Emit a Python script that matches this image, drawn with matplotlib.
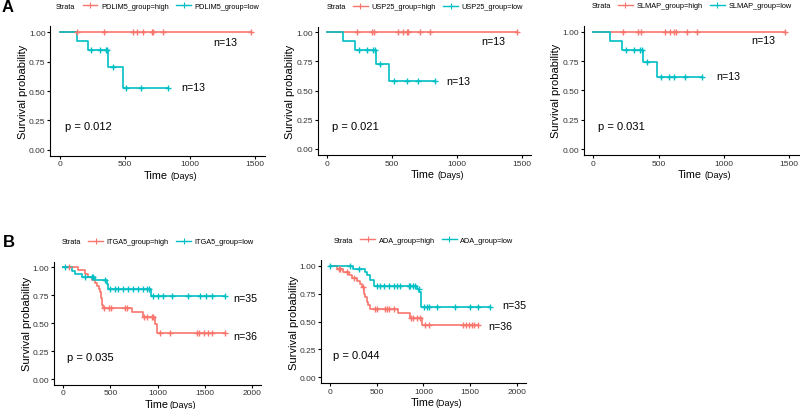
import matplotlib
matplotlib.use("Agg")
import matplotlib.pyplot as plt
from matplotlib.lines import Line2D
import numpy as np

plt.rcParams['font.family'] = ['Liberation Sans', 'DejaVu Sans']

RED = '#F8766D'
TEAL = '#00BFC4'

# ---------------- data ----------------
# each curve: step times, survival after each step, last follow-up time, censor times

# A1 PDLIM5
pdlim5_high_times = [0]
pdlim5_high_surv = [1.0]
pdlim5_high_end = 1467
pdlim5_high_censor = [133, 338, 559, 590, 636, 705, 718, 795, 1467]
pdlim5_low_times = [0, 130, 218, 372, 487]
pdlim5_low_surv = [1.0, 0.923, 0.846, 0.705, 0.529]
pdlim5_low_end = 833
pdlim5_low_censor = [236, 308, 354, 364, 410, 508, 620, 833]

# A2 USP25
usp25_high_times = [0]
usp25_high_surv = [1.0]
usp25_high_end = 1461
usp25_high_censor = [226, 342, 360, 548, 581, 612, 625, 715, 792, 1461]
usp25_low_times = [0, 123, 214, 376, 479]
usp25_low_surv = [1.0, 0.923, 0.846, 0.725, 0.58]
usp25_low_end = 831
usp25_low_censor = [247, 304, 355, 368, 406, 515, 612, 702, 831]

# A3 SLMAP
slmap_high_times = [0]
slmap_high_surv = [1.0]
slmap_high_end = 1469
slmap_high_censor = [230, 345, 365, 549, 588, 618, 634, 716, 792, 1469]
slmap_low_times = [0, 128, 217, 378, 486]
slmap_low_surv = [1.0, 0.923, 0.846, 0.74, 0.615]
slmap_low_end = 830
slmap_low_censor = [250, 312, 358, 371, 409, 516, 583, 618, 705, 830]

# B1 ITGA5
itga5_high_times = [0, 152, 230, 266, 301, 336, 361, 380, 388, 395, 402, 410, 414, 418, 726, 849, 975, 995]
itga5_high_surv = [1.0, 0.972, 0.944, 0.917, 0.889, 0.861, 0.833, 0.806, 0.778, 0.75, 0.722, 0.694,
                   0.664, 0.633, 0.597, 0.558, 0.49, 0.415]
itga5_high_end = 1720
itga5_high_censor = [60, 430, 490, 508, 655, 676, 860, 885, 938, 956, 1030, 1133, 1416, 1444,
                     1494, 1540, 1582, 1720]
itga5_low_times = [0, 88, 124, 200, 336, 460, 478, 935]
itga5_low_surv = [1.0, 0.971, 0.943, 0.914, 0.883, 0.85, 0.81, 0.745]
itga5_low_end = 1717
itga5_low_censor = [15, 230, 301, 319, 442, 496, 549, 584, 630, 690, 743, 796, 849, 885, 910,
                    956, 1009, 1055, 1151, 1328, 1451, 1515, 1575, 1717]

# B2 ADA
ada_high_times = [0, 71, 140, 200, 236, 290, 325, 343, 365, 378, 395, 410, 425, 732, 860, 985]
ada_high_surv = [1.0, 0.972, 0.944, 0.917, 0.889, 0.861, 0.833, 0.806, 0.75, 0.72, 0.675, 0.645,
                 0.612, 0.576, 0.535, 0.472]
ada_high_end = 1589
ada_high_censor = [93, 110, 182, 254, 350, 478, 503, 589, 610, 628, 682, 870, 885, 931, 967,
                   1021, 1057, 1430, 1460, 1490, 1520, 1545, 1589]
ada_low_times = [0, 250, 378, 396, 425, 468, 931, 956, 978]
ada_low_surv = [1.0, 0.971, 0.943, 0.914, 0.87, 0.818, 0.79, 0.76, 0.632]
ada_low_end = 1714
ada_low_censor = [0, 214, 314, 503, 539, 575, 628, 682, 717, 753, 842, 860, 885, 914, 950,
                  1003, 1039, 1064, 1146, 1342, 1502, 1589, 1714]

genes = ['PDLIM5', 'USP25', 'SLMAP', 'ITGA5', 'ADA']
pvals = ['p = 0.012', 'p = 0.021', 'p = 0.031', 'p = 0.035', 'p = 0.044']
n_high = ['n=13', 'n=13', 'n=13', 'n=36', 'n=36']
n_low = ['n=13', 'n=13', 'n=13', 'n=35', 'n=35']
x_ticks_a = [0, 500, 1000, 1500]
x_ticks_b = [0, 500, 1000, 1500, 2000]
y_ticks = [0.0, 0.25, 0.5, 0.75, 1.0]

# label positions (days, survival)
n_high_pos = [(1177, 0.92), (1191, 0.928), (1214, 0.93), (1805, 0.388), (1692, 0.462)]
n_low_pos = [(936, 0.53), (921, 0.585), (940, 0.625), (1805, 0.725), (1842, 0.648)]

curves = [
    ((pdlim5_high_times, pdlim5_high_surv, pdlim5_high_end, pdlim5_high_censor),
     (pdlim5_low_times, pdlim5_low_surv, pdlim5_low_end, pdlim5_low_censor)),
    ((usp25_high_times, usp25_high_surv, usp25_high_end, usp25_high_censor),
     (usp25_low_times, usp25_low_surv, usp25_low_end, usp25_low_censor)),
    ((slmap_high_times, slmap_high_surv, slmap_high_end, slmap_high_censor),
     (slmap_low_times, slmap_low_surv, slmap_low_end, slmap_low_censor)),
    ((itga5_high_times, itga5_high_surv, itga5_high_end, itga5_high_censor),
     (itga5_low_times, itga5_low_surv, itga5_low_end, itga5_low_censor)),
    ((ada_high_times, ada_high_surv, ada_high_end, ada_high_censor),
     (ada_low_times, ada_low_surv, ada_low_end, ada_low_censor)),
]

# axes boxes in pixels: left, right, top, bottom
boxes = [(50.25, 264.75, 27.4, 156.6),
         (317.6, 531.4, 27.5, 155.8),
         (583.5, 798.8, 26.8, 155.9),
         (53.9, 261.1, 262.7, 385.6),
         (320.7, 526.0, 261.1, 383.9)]

W, H = 800, 410
fig = plt.figure(figsize=(8, 4.1), dpi=100)


def km_level(times, surv, t):
    i = np.searchsorted(times, t, side='right') - 1
    return np.asarray(surv)[i]


def draw_curve(ax, curve, color):
    times, surv, end, censor = curve
    xs = list(times) + [end]
    ys = list(surv) + [surv[-1]]
    ax.step(xs, ys, where='post', color=color, lw=1.2, zorder=3)
    ax.plot(censor, km_level(times, surv, censor), ls='none', marker='+',
            color=color, ms=5, mew=1.0, zorder=4)


for k, (l, r, t, b) in enumerate(boxes):
    ax = fig.add_axes([l / W, 1 - b / H, (r - l) / W, (b - t) / H])
    high, low = curves[k]
    draw_curve(ax, high, RED)
    draw_curve(ax, low, TEAL)

    if k < 3:
        ax.set_xlim(-75, 1575)
        ax.set_xticks(x_ticks_a)
    else:
        ax.set_xlim(-100, 2100)
        ax.set_xticks(x_ticks_b)
    ax.set_ylim(-0.05, 1.05)
    ax.set_yticks(y_ticks)
    ax.set_yticklabels(['%.2f' % v for v in y_ticks])

    for s in ['top', 'right']:
        ax.spines[s].set_visible(False)
    for s in ['left', 'bottom']:
        ax.spines[s].set_linewidth(0.8)
    ax.tick_params(direction='out', length=2.5, width=0.8, labelsize=6.0,
                   labelcolor='#333333', pad=0.9)

    ax.set_ylabel('Survival probability', fontsize=8)
    ax.yaxis.set_label_coords(-0.105, 0.5)

    # x label: "Time" larger than "(Days)", baseline ~22.4 px below the axis
    h_px = b - t
    base_y = -22.4 / h_px
    ax.text(0.437, base_y, 'Time', transform=ax.transAxes, fontsize=7.8,
            ha='left', va='baseline')
    ax.text(0.56, base_y, '(Days)', transform=ax.transAxes, fontsize=6.5,
            ha='left', va='baseline')

    ax.text(35, 0.2, pvals[k], fontsize=8, ha='left', va='center')
    ax.text(n_high_pos[k][0], n_high_pos[k][1], n_high[k], fontsize=7.7,
            ha='left', va='center')
    ax.text(n_low_pos[k][0], n_low_pos[k][1], n_low[k], fontsize=7.7,
            ha='left', va='center')

    handles = [Line2D([], [], ls='none', label='Strata'),
               Line2D([], [], color=RED, lw=1.0, marker='+', ms=4, mew=0.8,
                      label=genes[k] + '_group=high'),
               Line2D([], [], color=TEAL, lw=1.0, marker='+', ms=4, mew=0.8,
                      label=genes[k] + '_group=low')]
    shift = 9.0 / (r - l)
    ax.legend(handles=handles, loc='center', ncol=3, frameon=False, fontsize=5.3,
              handlelength=2.0, handletextpad=0.5, columnspacing=1.0,
              bbox_to_anchor=(0.5 - shift, 1 + 20 / h_px),
              bbox_transform=ax.transAxes, borderaxespad=0, borderpad=0)

fig.text(7.5 / W, 1 - 7.5 / H, 'A', fontsize=12, fontweight='bold', ha='center', va='center')
fig.text(9 / W, 1 - 243 / H, 'B', fontsize=12, fontweight='bold', ha='center', va='center')

fig.savefig('out.png', dpi=100)
